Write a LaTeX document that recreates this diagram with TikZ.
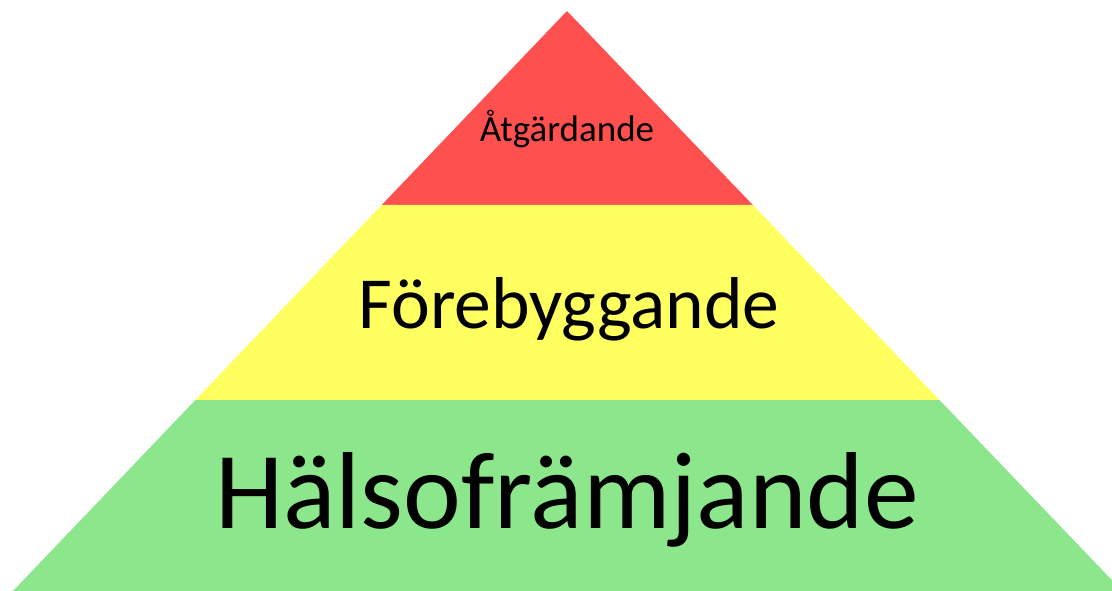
\documentclass[tikz,border=0pt]{standalone}
\usepackage{fontspec}
\setmainfont{Carlito}
\definecolor{topred}{HTML}{FF5050}
\definecolor{midyellow}{HTML}{FFFF60}
\definecolor{basegreen}{HTML}{8CE68C}
\begin{document}
\begin{tikzpicture}[x=1pt,y=-1pt,
  label/.style={anchor=base,inner sep=0pt,text=black}]
\useasboundingbox (0,0) rectangle (1112,591);
\clip (0,0) rectangle (1112,591);
\coordinate (apex) at (567,11);
\coordinate (rl) at (381.7,205);
\coordinate (rr) at (752.8,205);
\coordinate (yl) at (195.4,400);
\coordinate (yr) at (939.5,400);
\coordinate (gl) at (13,591);
\coordinate (gr) at (1122.3,591);
\fill[topred] (apex) -- (rr) -- (rl) -- cycle;
\fill[midyellow] (rl) -- (rr) -- (yr) -- (yl) -- cycle;
\fill[basegreen] (yl) -- (yr) -- (gr) -- (gl) -- cycle;
\node[label,font=\fontsize{37}{40}\selectfont] (atg) at (567,142) {Åtgärdande};
\node[label,font=\fontsize{73.5}{80}\selectfont] (fore) at (569,328) {Förebyggande};
\node[label,font=\fontsize{109.5}{120}\selectfont] (hals) at (567,528) {Hälsofrämjande};
\end{tikzpicture}
\end{document}
